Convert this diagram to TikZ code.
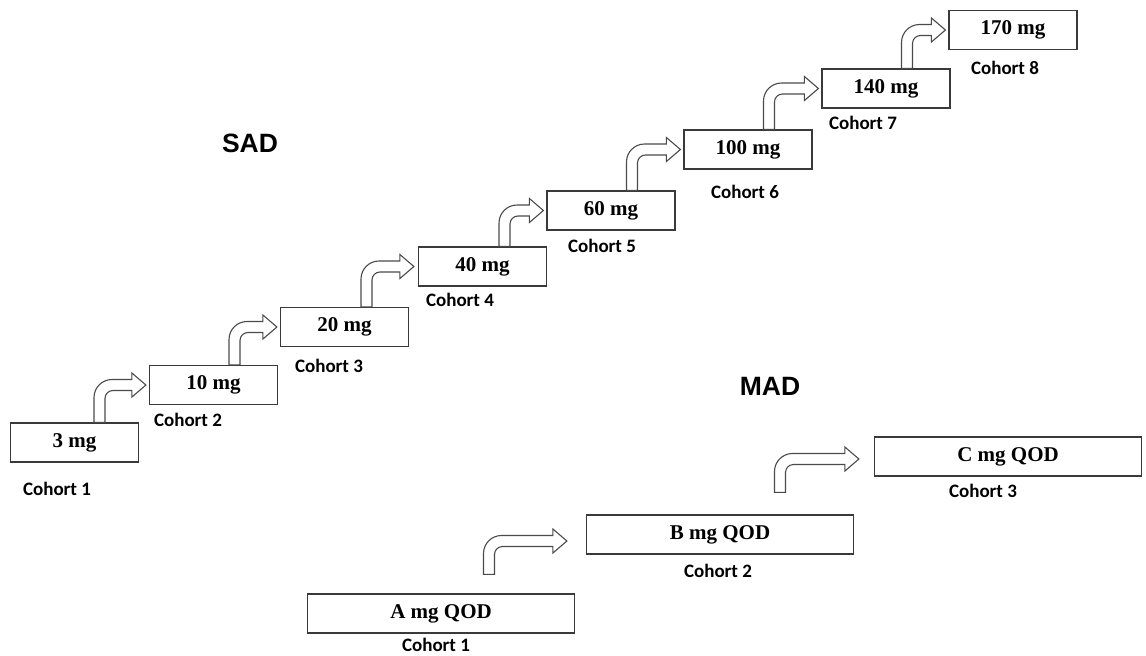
\documentclass[tikz,border=0pt]{standalone}
\usepackage{fontspec}
\setmainfont{Liberation Serif}
\newfontfamily\cohortfont{Carlito}
\newfontfamily\headfont{Liberation Sans}
\usetikzlibrary{calc}
\definecolor{boxgray}{HTML}{3A3A3A}
\definecolor{arrowgray}{HTML}{4A4A4A}
\tikzset{
    dose/.style={
        rectangle,
        draw=boxgray,
        line width=1.2pt,
        minimum width=128pt,
        minimum height=39pt,
        inner sep=0pt,
        font=\fontsize{21}{21}\selectfont\bfseries
    },
    madose/.style={dose, minimum width=267pt},
    cohort/.style={inner sep=0pt, font=\cohortfont\fontsize{19}{19}\selectfont\bfseries},
    title/.style={inner sep=0pt, font=\headfont\fontsize{26.5}{26.5}\selectfont\bfseries},
    turnarrow/.style={draw=arrowgray, line width=1.1pt, fill=white}
}
% shaft half width, outer and inner radius, head length and half height
\def\aw{5.5pt}
\def\ar{18pt}
\def\ari{8pt}
\def\al{14pt}
\def\ah{12pt}
% #1 lower box, #2 upper box, #3 shaft offset, #4 gap below, #5 gap at tip, #6 drop of tip
\newcommand{\bentarrow}[6]{%
    \draw[turnarrow] let \p1=(#1.north), \p2=(#2.west),
        \n1={\x1+#3}, \n2={\y1+#4}, \n3={\y2-#6}, \n4={\x2-#5} in
        ({\n1-\aw},{\n2}) -- ({\n1-\aw},{\n3+\aw-\ar})
        .. controls ({\n1-\aw},{\n3+\aw-0.448*\ar}) and ({\n1-\aw+0.448*\ar},{\n3+\aw}) ..
        ({\n1-\aw+\ar},{\n3+\aw}) -- ({\n4-\al},{\n3+\aw}) -- ({\n4-\al},{\n3+\ah})
        -- ({\n4},{\n3}) -- ({\n4-\al},{\n3-\ah}) -- ({\n4-\al},{\n3-\aw})
        -- ({\n1+\aw+\ari},{\n3-\aw})
        .. controls ({\n1+\aw+0.448*\ari},{\n3-\aw}) and ({\n1+\aw},{\n3-\aw-0.448*\ari}) ..
        ({\n1+\aw},{\n3-\aw-\ari}) -- ({\n1+\aw},{\n2}) -- cycle;%
}
\begin{document}
\begin{tikzpicture}[x=1pt, y=-1pt]
\useasboundingbox (0,0) rectangle (1146,656);

% SAD
\node (sad) [title] at (250,143) {SAD};

\node (s1) [dose] at (74.5,442.5) {3 mg};
\node (s2) [dose] at (213.5,385) {10 mg};
\node (s3) [dose] at (344.5,327) {20 mg};
\node (s4) [dose] at (482.5,266.5) {40 mg};
\node (s5) [dose] at (611,210.5) {60 mg};
\node (s6) [dose] at (748,149.5) {100 mg};
\node (s7) [dose] at (886,88.5) {140 mg};
\node (s8) [dose] at (1013,30) {170 mg};

\node (sc1) [cohort] at (57,489) {Cohort 1};
\node (sc2) [cohort] at (188,420) {Cohort 2};
\node (sc3) [cohort] at (329,366) {Cohort 3};
\node (sc4) [cohort] at (460,300) {Cohort 4};
\node (sc5) [cohort] at (602,246) {Cohort 5};
\node (sc6) [cohort] at (745,192) {Cohort 6};
\node (sc7) [cohort] at (863,123) {Cohort 7};
\node (sc8) [cohort] at (1005,68) {Cohort 8};

\bentarrow{s1}{s2}{25pt}{0pt}{3pt}{0pt}
\bentarrow{s2}{s3}{21pt}{0pt}{3pt}{0pt}
\bentarrow{s3}{s4}{22pt}{0pt}{4pt}{0pt}
\bentarrow{s4}{s5}{22pt}{0pt}{3pt}{0pt}
\bentarrow{s5}{s6}{21pt}{0pt}{3pt}{0pt}
\bentarrow{s6}{s7}{21pt}{0pt}{3pt}{0pt}
\bentarrow{s7}{s8}{21pt}{0pt}{3pt}{0pt}

% MAD
\node (mad) [title] at (770,386) {MAD};

\node (m1) [madose] at (441,613.5) {A mg QOD};
\node (m2) [madose] at (720,534.5) {B mg QOD};
\node (m3) [madose] at (1008,456.5) {C mg QOD};

\node (mc1) [cohort] at (436,644.5) {Cohort 1};
\node (mc2) [cohort] at (718,571) {Cohort 2};
\node (mc3) [cohort] at (983,491) {Cohort 3};

\bentarrow{m1}{m2}{48pt}{19pt}{19pt}{6.5pt}
\bentarrow{m2}{m3}{60pt}{22pt}{15pt}{2.5pt}

\end{tikzpicture}
\end{document}
